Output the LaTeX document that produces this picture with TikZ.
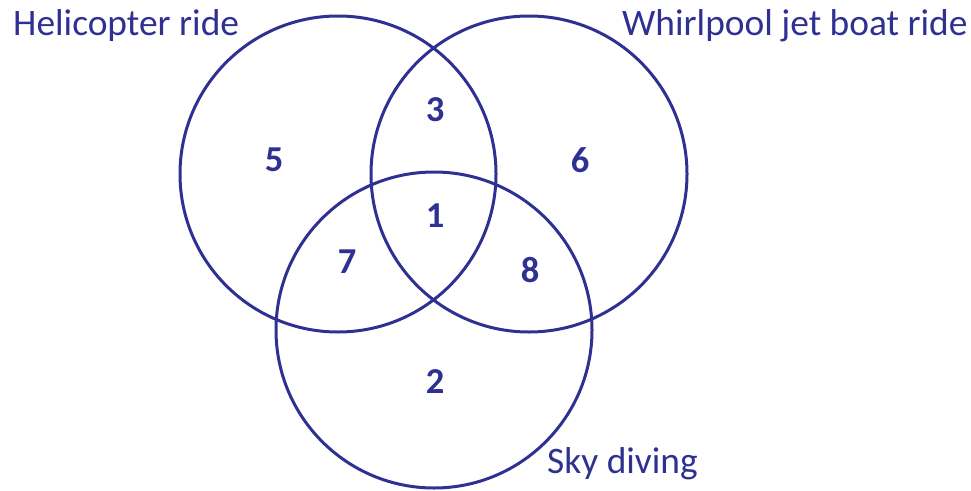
\documentclass[tikz,border=0pt]{standalone}
\usepackage{fontspec}
\setmainfont{Carlito}
\usepackage{xcolor}
\usetikzlibrary{positioning}
\definecolor{vennblue}{RGB}{46,49,146}

\begin{document}
\begin{tikzpicture}[x=1pt,y=-1pt,
        set/.style={circle,draw=vennblue,line width=3pt,minimum size=316pt,inner sep=0pt},
        setname/.style={text=vennblue,anchor=base west,inner sep=0pt,font=\fontsize{37.4}{40}\selectfont},
        count/.style={text=vennblue,font=\fontsize{36.5}{40}\selectfont\bfseries}]
        \useasboundingbox (0,0) rectangle (971,490);
        \node[set] (heli) at (338,174) {};
        \node[set] (boat) at (529,174) {};
        \node[set] (sky) at (434,330) {};
        \node[setname] (helilabel) at (13,35) {Helicopter ride};
        \node[setname] (boatlabel) at (622,35) {Whirlpool jet boat ride};
        \node[setname] (skylabel) at (547,473) {Sky diving};
        \node[count] (n5) at (274,160) {5};
        \node[count] (n3) at (435,110) {3};
        \node[count] (n6) at (580,160) {6};
        \node[count] (n1) at (435,216) {1};
        \node[count] (n7) at (347,262) {7};
        \node[count] (n8) at (530,270) {8};
        \node[count] (n2) at (435,382) {2};
\end{tikzpicture}
\end{document}
